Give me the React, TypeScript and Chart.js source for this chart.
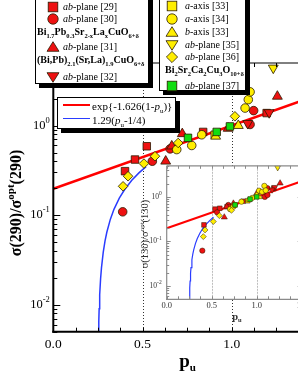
import React, { useEffect, useRef } from 'react';
import { Chart, registerables } from 'chart.js';

Chart.register(...registerables);

const SERIF = '"Liberation Serif", "Times New Roman", Times, serif';

// ---------- axes ----------
const X_MIN = 0;
const X_MAX = 1.5;
const Y_MIN = 0.005;
const Y_MAX = 5;
const X_TICK_STEP = 0.125;
const X_LABEL_VALUES = [0, 0.5, 1.0, 1.5];
const X_LABELS = ['0.0', '0.5', '1.0', '1.5'];
const X_GRID = [0.5, 1.0];
const Y_LABEL_VALUES = [0.01, 0.1, 1];
const Y_LABEL_EXPONENTS = ['-2', '-1', '0'];

// ---------- fit curves ----------
const EXP_FIT_X = [0, 1.5];
const EXP_FIT_Y = [0.197, 2.255];
const POW_FIT_X = [0.2539, 0.255, 0.257, 0.26, 0.265, 0.27, 0.28, 0.29, 0.3, 0.32, 0.34, 0.37, 0.4, 0.44, 0.48, 0.52];
const POW_FIT_Y = [0.005, 0.00645, 0.00903, 0.0129, 0.01935, 0.0258, 0.0387, 0.0516, 0.0645, 0.0903, 0.1161, 0.1548, 0.1935, 0.2451, 0.2967, 0.3483];

// ---------- data: sigma(290)/sigma_opt(290) (main panel) ----------
const R29_X = [0.402, 0.458, 0.524, 0.84, 1.196];
const R29_Y = [0.31, 0.418, 0.588, 0.85, 1.38];
const R30_X = [0.389, 0.555, 0.655, 1.103, 1.123];
const R30_Y = [0.109, 0.4, 0.55, 1.03, 1.47];
const R31_X = [0.63, 0.664, 0.723, 0.98, 1.256];
const R31_Y = [0.4, 0.59, 0.81, 0.93, 2.12];
const R32_X = [1.21, 1.09];
const R32_Y = [1.4, 1.06];
const Y33A_X = [0.905];
const Y33A_Y = [0.79];
const Y34_X = [0.692, 0.776, 0.832, 1.075, 1.093, 1.103];
const Y34_Y = [0.54, 0.6, 0.79, 1.57, 1.95, 2.38];
const Y33B_X = [0.91, 1.037];
const Y33B_Y = [0.76, 1.0];
const Y35_X = [1.233];
const Y35_Y = [4.4];
const Y36_X = [0.391, 0.419, 0.508, 0.57, 0.7, 1.018];
const Y36_Y = [0.21, 0.272, 0.377, 0.455, 0.64, 1.27];
const G37_X = [0.755, 0.916, 0.99];
const G37_Y = [0.73, 0.85, 0.98];

// ---------- data: sigma(130)/sigma_opt(130) (inset) ----------
const R29_X130 = [0.414, 0.537, 0.59, 0.67, 0.85, 1.19];
const R29_Y130 = [0.235, 0.53, 0.556, 0.6, 0.8, 1.55];
const R30_X130 = [0.396, 0.56, 0.685, 0.7, 1.09, 1.12, 1.12];
const R30_Y130 = [0.062, 0.45, 0.66, 0.6, 1.0, 1.57, 1.1];
const R31_X130 = [0.64, 0.667, 0.741, 1.0, 1.26];
const R31_Y130 = [0.35, 0.605, 0.716, 1.2, 2.03];
const R32_X130 = [1.2, 1.17];
const R32_Y130 = [1.65, 1.45];
const Y33A_X130 = [0.9];
const Y33A_Y130 = [0.82];
const Y34_X130 = [0.704, 0.74, 0.759, 0.83, 0.95, 1.026, 1.085, 1.06, 1.1];
const Y34_Y130 = [0.53, 0.6, 0.66, 0.78, 0.95, 1.38, 1.77, 1.3, 1.4];
const Y33B_X130 = [0.91, 1.03];
const Y33B_Y130 = [0.85, 1.0];
const Y35_X130 = [1.233];
const Y35_Y130 = [4.6];
const Y36_X130 = [0.407, 0.426, 0.518, 0.585, 0.72, 1.0];
const Y36_Y130 = [0.128, 0.181, 0.279, 0.38, 0.5, 1.1];
const G37_X130 = [0.76, 0.926, 1.0];
const G37_Y130 = [0.66, 0.89, 1.0];

const RED = '#ee1111';
const YELLOW = '#ffee00';
const GREEN = '#11dd11';
const EDGE = '#2a1a00';

type Shape = 'rect' | 'circle' | 'triangle' | 'rectRot';
type SeriesDef = {
  label: string; fill: string; shape: Shape; rot: number; r: number;
  x290: number[]; y290: number[]; x130: number[]; y130: number[];
};

const SERIES: SeriesDef[] = [
  { label: 'ab-plane [29]', fill: RED, shape: 'rect', rot: 0, r: 5.3, x290: R29_X, y290: R29_Y, x130: R29_X130, y130: R29_Y130 },
  { label: 'ab-plane [30]', fill: RED, shape: 'circle', rot: 0, r: 4.3, x290: R30_X, y290: R30_Y, x130: R30_X130, y130: R30_Y130 },
  { label: 'ab-plane [31]', fill: RED, shape: 'triangle', rot: 0, r: 5.7, x290: R31_X, y290: R31_Y, x130: R31_X130, y130: R31_Y130 },
  { label: 'ab-plane [32]', fill: RED, shape: 'triangle', rot: 180, r: 5.7, x290: R32_X, y290: R32_Y, x130: R32_X130, y130: R32_Y130 },
  { label: 'a-axis [33]', fill: YELLOW, shape: 'rect', rot: 0, r: 5.3, x290: Y33A_X, y290: Y33A_Y, x130: Y33A_X130, y130: Y33A_Y130 },
  { label: 'a-axis [34]', fill: YELLOW, shape: 'circle', rot: 0, r: 4.3, x290: Y34_X, y290: Y34_Y, x130: Y34_X130, y130: Y34_Y130 },
  { label: 'b-axis [33]', fill: YELLOW, shape: 'triangle', rot: 0, r: 5.7, x290: Y33B_X, y290: Y33B_Y, x130: Y33B_X130, y130: Y33B_Y130 },
  { label: 'ab-plane [35]', fill: YELLOW, shape: 'triangle', rot: 180, r: 5.7, x290: Y35_X, y290: Y35_Y, x130: Y35_X130, y130: Y35_Y130 },
  { label: 'ab-plane [36]', fill: YELLOW, shape: 'rectRot', rot: 0, r: 4.8, x290: Y36_X, y290: Y36_Y, x130: Y36_X130, y130: Y36_Y130 },
  { label: 'ab-plane [37]', fill: GREEN, shape: 'rect', rot: 0, r: 5.3, x290: G37_X, y290: G37_Y, x130: G37_X130, y130: G37_Y130 },
];

type TitlePart = { t: string; size: number; dy?: number; italic?: boolean; bold?: boolean };

type Decor = {
  fillArea: boolean;
  frameColor: string; leftW: number; bottomW: number; topW: number; rightW: number;
  tickColor: string; tickW: number; xTickLen: number; yMajLen: number; yMinLen: number;
  gridColor: string; gridDash: number[]; gridW: number;
  labelColor: string; xLabelSize: number; xLabelDy: number;
  yLabelSize: number; ySupSize: number; ySupRaise: number; yLabelGap: number;
  xTitle: { x: number; y: number; parts: TitlePart[] };
  yTitle: { x: number; y: number; parts: TitlePart[] };
};

function fontOf(p: TitlePart) {
  return `${p.italic ? 'italic ' : ''}${p.bold ? 'bold ' : ''}${p.size}px ${SERIF}`;
}

function drawParts(ctx: CanvasRenderingContext2D, parts: TitlePart[], x: number, y: number) {
  const widths = parts.map((p) => {
    ctx.font = fontOf(p);
    return ctx.measureText(p.t).width;
  });
  const total = widths.reduce((a, b) => a + b, 0);
  let cx = x - total / 2;
  parts.forEach((p, i) => {
    ctx.font = fontOf(p);
    ctx.fillText(p.t, cx, y + (p.dy || 0));
    cx += widths[i];
  });
}

function makeDecor(d: Decor) {
  return {
    id: 'decor',
    beforeDatasetsDraw(chart: any) {
      const { ctx, chartArea: a } = chart;
      const xs = chart.scales.x;
      ctx.save();
      if (d.fillArea) {
        ctx.fillStyle = '#ffffff';
        ctx.fillRect(a.left, a.top, a.right - a.left, a.bottom - a.top);
      }
      ctx.strokeStyle = d.gridColor;
      ctx.lineWidth = d.gridW;
      ctx.setLineDash(d.gridDash);
      for (const v of X_GRID) {
        const px = Math.round(xs.getPixelForValue(v)) + 0.5;
        ctx.beginPath();
        ctx.moveTo(px, a.top);
        ctx.lineTo(px, a.bottom);
        ctx.stroke();
      }
      ctx.restore();
    },
    afterDatasetsDraw(chart: any) {
      const { ctx, chartArea: a } = chart;
      const xs = chart.scales.x;
      const ys = chart.scales.y;
      ctx.save();
      // ticks
      ctx.strokeStyle = d.tickColor;
      ctx.lineWidth = d.tickW;
      ctx.beginPath();
      for (let v = X_MIN; v <= X_MAX + 1e-9; v += X_TICK_STEP) {
        const px = Math.round(xs.getPixelForValue(v)) + 0.5;
        ctx.moveTo(px, a.bottom);
        ctx.lineTo(px, a.bottom - d.xTickLen);
        ctx.moveTo(px, a.top);
        ctx.lineTo(px, a.top + d.xTickLen);
      }
      for (let e = -3; e <= 0; e++) {
        for (let m = 1; m <= 9; m++) {
          const v = m * Math.pow(10, e);
          if (v < Y_MIN - 1e-12 || v > Y_MAX + 1e-12) continue;
          const py = Math.round(ys.getPixelForValue(v)) + 0.5;
          const len = m === 1 ? d.yMajLen : d.yMinLen;
          ctx.moveTo(a.left, py);
          ctx.lineTo(a.left + len, py);
          ctx.moveTo(a.right, py);
          ctx.lineTo(a.right - len, py);
        }
      }
      ctx.stroke();
      // frame
      ctx.strokeStyle = d.frameColor;
      const edge = (w: number, x1: number, y1: number, x2: number, y2: number) => {
        if (w <= 0) return;
        ctx.lineWidth = w;
        ctx.beginPath();
        ctx.moveTo(x1, y1);
        ctx.lineTo(x2, y2);
        ctx.stroke();
      };
      edge(d.leftW, a.left, a.top, a.left, a.bottom + d.bottomW / 2);
      edge(d.bottomW, a.left - d.leftW / 2, a.bottom, a.right, a.bottom);
      edge(d.topW, a.left, a.top, a.right, a.top);
      edge(d.rightW, a.right, a.top, a.right, a.bottom);
      // x labels
      ctx.fillStyle = d.labelColor;
      ctx.textAlign = 'center';
      ctx.textBaseline = 'middle';
      ctx.font = `${d.xLabelSize}px ${SERIF}`;
      X_LABEL_VALUES.forEach((v, i) => {
        ctx.fillText(X_LABELS[i], xs.getPixelForValue(v), a.bottom + d.xLabelDy);
      });
      // y labels: 10^e
      ctx.textAlign = 'left';
      Y_LABEL_VALUES.forEach((v, i) => {
        const py = ys.getPixelForValue(v);
        ctx.font = `${d.yLabelSize}px ${SERIF}`;
        const w10 = ctx.measureText('10').width;
        ctx.font = `${d.ySupSize}px ${SERIF}`;
        const wSup = ctx.measureText(Y_LABEL_EXPONENTS[i]).width;
        const x0 = a.left - d.yLabelGap - w10 - wSup;
        ctx.font = `${d.yLabelSize}px ${SERIF}`;
        ctx.fillText('10', x0, py);
        ctx.font = `${d.ySupSize}px ${SERIF}`;
        ctx.fillText(Y_LABEL_EXPONENTS[i], x0 + w10, py - d.ySupRaise);
      });
      // titles
      ctx.textBaseline = 'alphabetic';
      drawParts(ctx, d.xTitle.parts, d.xTitle.x, d.xTitle.y);
      ctx.translate(d.yTitle.x, d.yTitle.y);
      ctx.rotate(-Math.PI / 2);
      ctx.textBaseline = 'middle';
      drawParts(ctx, d.yTitle.parts, 0, 0);
      ctx.restore();
    },
  };
}

function buildConfig(kind: '290' | '130', pad: { left: number; right: number; top: number; bottom: number }, decor: Decor): any {
  const big = kind === '290';
  const datasets: any[] = [];
  SERIES.forEach((s, i) => {
    const xs = big ? s.x290 : s.x130;
    const ys = big ? s.y290 : s.y130;
    datasets.push({
      label: s.label,
      data: xs.map((x, j) => ({ x, y: ys[j] })),
      showLine: false,
      pointStyle: s.shape,
      pointRotation: s.rot,
      pointRadius: big ? s.r : s.r * 0.62,
      pointBackgroundColor: s.fill,
      pointBorderColor: EDGE,
      pointBorderWidth: big ? 0.8 : 0.5,
      order: 10 - i,
    });
  });
  datasets.push({
    label: 'exp fit',
    data: EXP_FIT_X.map((x, j) => ({ x, y: EXP_FIT_Y[j] })),
    showLine: true,
    borderColor: '#ff0000',
    borderWidth: big ? 2.6 : 2,
    pointRadius: 0,
    tension: 0,
    order: 50,
  });
  datasets.push({
    label: 'power fit',
    data: POW_FIT_X.map((x, j) => ({ x, y: POW_FIT_Y[j] })),
    showLine: true,
    borderColor: '#2a3cff',
    borderWidth: big ? 1.5 : 1.2,
    pointRadius: 0,
    tension: 0,
    order: 51,
  });
  return {
    type: 'scatter',
    data: { datasets },
    options: {
      responsive: false,
      animation: false,
      devicePixelRatio: 1,
      events: [],
      layout: { padding: pad },
      plugins: { legend: { display: false }, tooltip: { enabled: false } },
      scales: {
        x: { type: 'linear', min: X_MIN, max: X_MAX, display: false },
        y: { type: 'logarithmic', min: Y_MIN, max: Y_MAX, display: false },
      },
    },
    plugins: [makeDecor(decor)],
  };
}

const MAIN_DECOR: Decor = {
  fillArea: false,
  frameColor: '#000', leftW: 2, bottomW: 2, topW: 1, rightW: 1,
  tickColor: '#000', tickW: 1, xTickLen: 4, yMajLen: 7, yMinLen: 4,
  gridColor: '#333', gridDash: [1, 2], gridW: 1,
  labelColor: '#000', xLabelSize: 13.5, xLabelDy: 12.5,
  yLabelSize: 12.5, ySupSize: 8.5, ySupRaise: 5, yLabelGap: 3.5,
  xTitle: { x: 187.5, y: 367, parts: [
    { t: 'p', size: 19, bold: true },
    { t: 'u', size: 11, bold: true, dy: 4 },
  ] },
  yTitle: { x: 17, y: 203, parts: [
    { t: 'σ(290)/σ', size: 16, bold: true },
    { t: 'opt', size: 11, bold: true, dy: -6 },
    { t: '(290)', size: 16, bold: true },
  ] },
};

const INSET_DECOR: Decor = {
  fillArea: true,
  frameColor: '#8a8a8a', leftW: 1.2, bottomW: 1.2, topW: 1.2, rightW: 1.2,
  tickColor: '#8a8a8a', tickW: 1, xTickLen: 3, yMajLen: 4, yMinLen: 2.5,
  gridColor: '#bdbdbd', gridDash: [2, 1], gridW: 1,
  labelColor: '#333', xLabelSize: 8.5, xLabelDy: 6,
  yLabelSize: 7.5, ySupSize: 5.5, ySupRaise: 3, yLabelGap: 5,
  xTitle: { x: 107, y: 169.5, parts: [
    { t: 'p', size: 10.5, bold: true },
    { t: 'u', size: 6.5, bold: true, dy: 2.5 },
  ] },
  yTitle: { x: 15.5, y: 84, parts: [
    { t: 'σ(130)/σ', size: 10.5 },
    { t: 'opt', size: 7, dy: -3.5 },
    { t: '(130)', size: 10.5 },
  ] },
};

const txt: React.CSSProperties = {
  position: 'absolute', whiteSpace: 'nowrap', fontFamily: SERIF, fontSize: 10,
  lineHeight: '12px', color: '#000',
};

function Sub({ children, size = 6.5 }: { children: React.ReactNode; size?: number }) {
  return <span style={{ fontSize: size, verticalAlign: '-3px', lineHeight: 0 }}>{children}</span>;
}

function Marker({ shape, rot, fill, cx, cy }: { shape: Shape; rot: number; fill: string; cx: number; cy: number }) {
  const s = 14;
  const h = s / 2;
  let el: React.ReactNode = null;
  if (shape === 'rect') el = <rect x={h - 4.8} y={h - 4.8} width={9.6} height={9.6} />;
  else if (shape === 'circle') el = <circle cx={h} cy={h} r={5.2} />;
  else if (shape === 'rectRot') el = <polygon points={`${h - 5.6},${h} ${h},${h - 5.6} ${h + 5.6},${h} ${h},${h + 5.6}`} />;
  else {
    const pts = rot === 180
      ? `${h - 6},${h - 4.3} ${h + 6},${h - 4.3} ${h},${h + 5.3}`
      : `${h - 6},${h + 4.3} ${h + 6},${h + 4.3} ${h},${h - 5.3}`;
    el = <polygon points={pts} />;
  }
  return (
    <svg width={s} height={s} style={{ position: 'absolute', left: cx - h, top: cy - h, overflow: 'visible' }}>
      <g fill={fill} stroke={EDGE} strokeWidth={0.8}>{el}</g>
    </svg>
  );
}

function Entry({ s, mx, tx, cy }: { s: SeriesDef; mx: number; tx: number; cy: number }) {
  const head = s.label.split('-')[0];
  const tail = s.label.slice(head.length);
  return (
    <>
      <Marker shape={s.shape} rot={s.rot} fill={s.fill} cx={mx} cy={cy} />
      <div style={{ ...txt, left: tx, top: cy - 6 }}>
        <i>{head}</i>{tail}
      </div>
    </>
  );
}

const boxStyle = (left: number, top: number, w: number, h: number): React.CSSProperties => ({
  position: 'absolute', left, top, width: w, height: h, boxSizing: 'border-box',
  border: '1px solid #000', background: '#fff', boxShadow: '4px 4px 0 #000',
});

export default function App() {
  const mainRef = useRef<HTMLCanvasElement | null>(null);
  const insetRef = useRef<HTMLCanvasElement | null>(null);

  useEffect(() => {
    const main = new Chart(mainRef.current as HTMLCanvasElement, buildConfig('290', { left: 53.3, top: 63, right: 9.1, bottom: 53.3 }, MAIN_DECOR));
    const inset = new Chart(insetRef.current as HTMLCanvasElement, buildConfig('130', { left: 36.7, top: 15.8, right: 28.3, bottom: 30.7 }, INSET_DECOR));
    return () => {
      main.destroy();
      inset.destroy();
    };
  }, []);

  const bold: React.CSSProperties = { ...txt, fontWeight: 'bold' };

  return (
    <div style={{ position: 'fixed', left: 0, top: 0, width: 298, height: 385, overflow: 'hidden', background: '#fff' }}>
      <canvas ref={mainRef} width={330} height={385} style={{ position: 'absolute', left: 0, top: 0 }} />
      <canvas ref={insetRef} width={200} height={180} style={{ position: 'absolute', left: 130, top: 150 }} />

      {/* fit legend */}
      <div style={boxStyle(57, 97, 119, 32)} />
      <div style={{ position: 'absolute', left: 63, top: 103.5, width: 27, height: 2.5, background: '#ff0000' }} />
      <div style={{ position: 'absolute', left: 63, top: 117.5, width: 27, height: 1.5, background: '#2a3cff' }} />
      <div style={{ ...txt, fontSize: 11, left: 92, top: 100 }}>
        exp{'{'}-1.626(1-<i>p</i><Sub size={7}>u</Sub>){'}'}
      </div>
      <div style={{ ...txt, fontSize: 11, left: 92, top: 114 }}>
        1.29(<i>p</i><Sub size={7}>u</Sub>-1/4)
      </div>

      {/* left legend */}
      <div style={boxStyle(35, -10, 114, 94)} />
      <Entry s={SERIES[0]} mx={53} tx={63} cy={7} />
      <Entry s={SERIES[1]} mx={53} tx={63} cy={19} />
      <div style={{ ...bold, left: 37, top: 26 }}>
        Bi<Sub>1.7</Sub>Pb<Sub>0.3</Sub>Sr<Sub>2-x</Sub>La<Sub>x</Sub>CuO<Sub>6+δ</Sub>
      </div>
      <Entry s={SERIES[2]} mx={53} tx={63} cy={47} />
      <div style={{ ...bold, left: 37, top: 54 }}>
        (Bi,Pb)<Sub>2.1</Sub>(Sr,La)<Sub>1.9</Sub>CuO<Sub>6+δ</Sub>
      </div>
      <Entry s={SERIES[3]} mx={53} tx={63} cy={77} />

      {/* right legend */}
      <div style={boxStyle(159, -10, 87, 101)} />
      <Entry s={SERIES[4]} mx={172} tx={185} cy={6} />
      <Entry s={SERIES[5]} mx={172} tx={185} cy={19} />
      <Entry s={SERIES[6]} mx={172} tx={185} cy={32} />
      <Entry s={SERIES[7]} mx={172} tx={185} cy={44.5} />
      <Entry s={SERIES[8]} mx={172} tx={185} cy={57} />
      <div style={{ ...bold, left: 165, top: 64 }}>
        Bi<Sub>2</Sub>Sr<Sub>2</Sub>Ca<Sub>2</Sub>Cu<Sub>3</Sub>O<Sub>10+δ</Sub>
      </div>
      <Entry s={SERIES[9]} mx={172} tx={185} cy={86} />
    </div>
  );
}
